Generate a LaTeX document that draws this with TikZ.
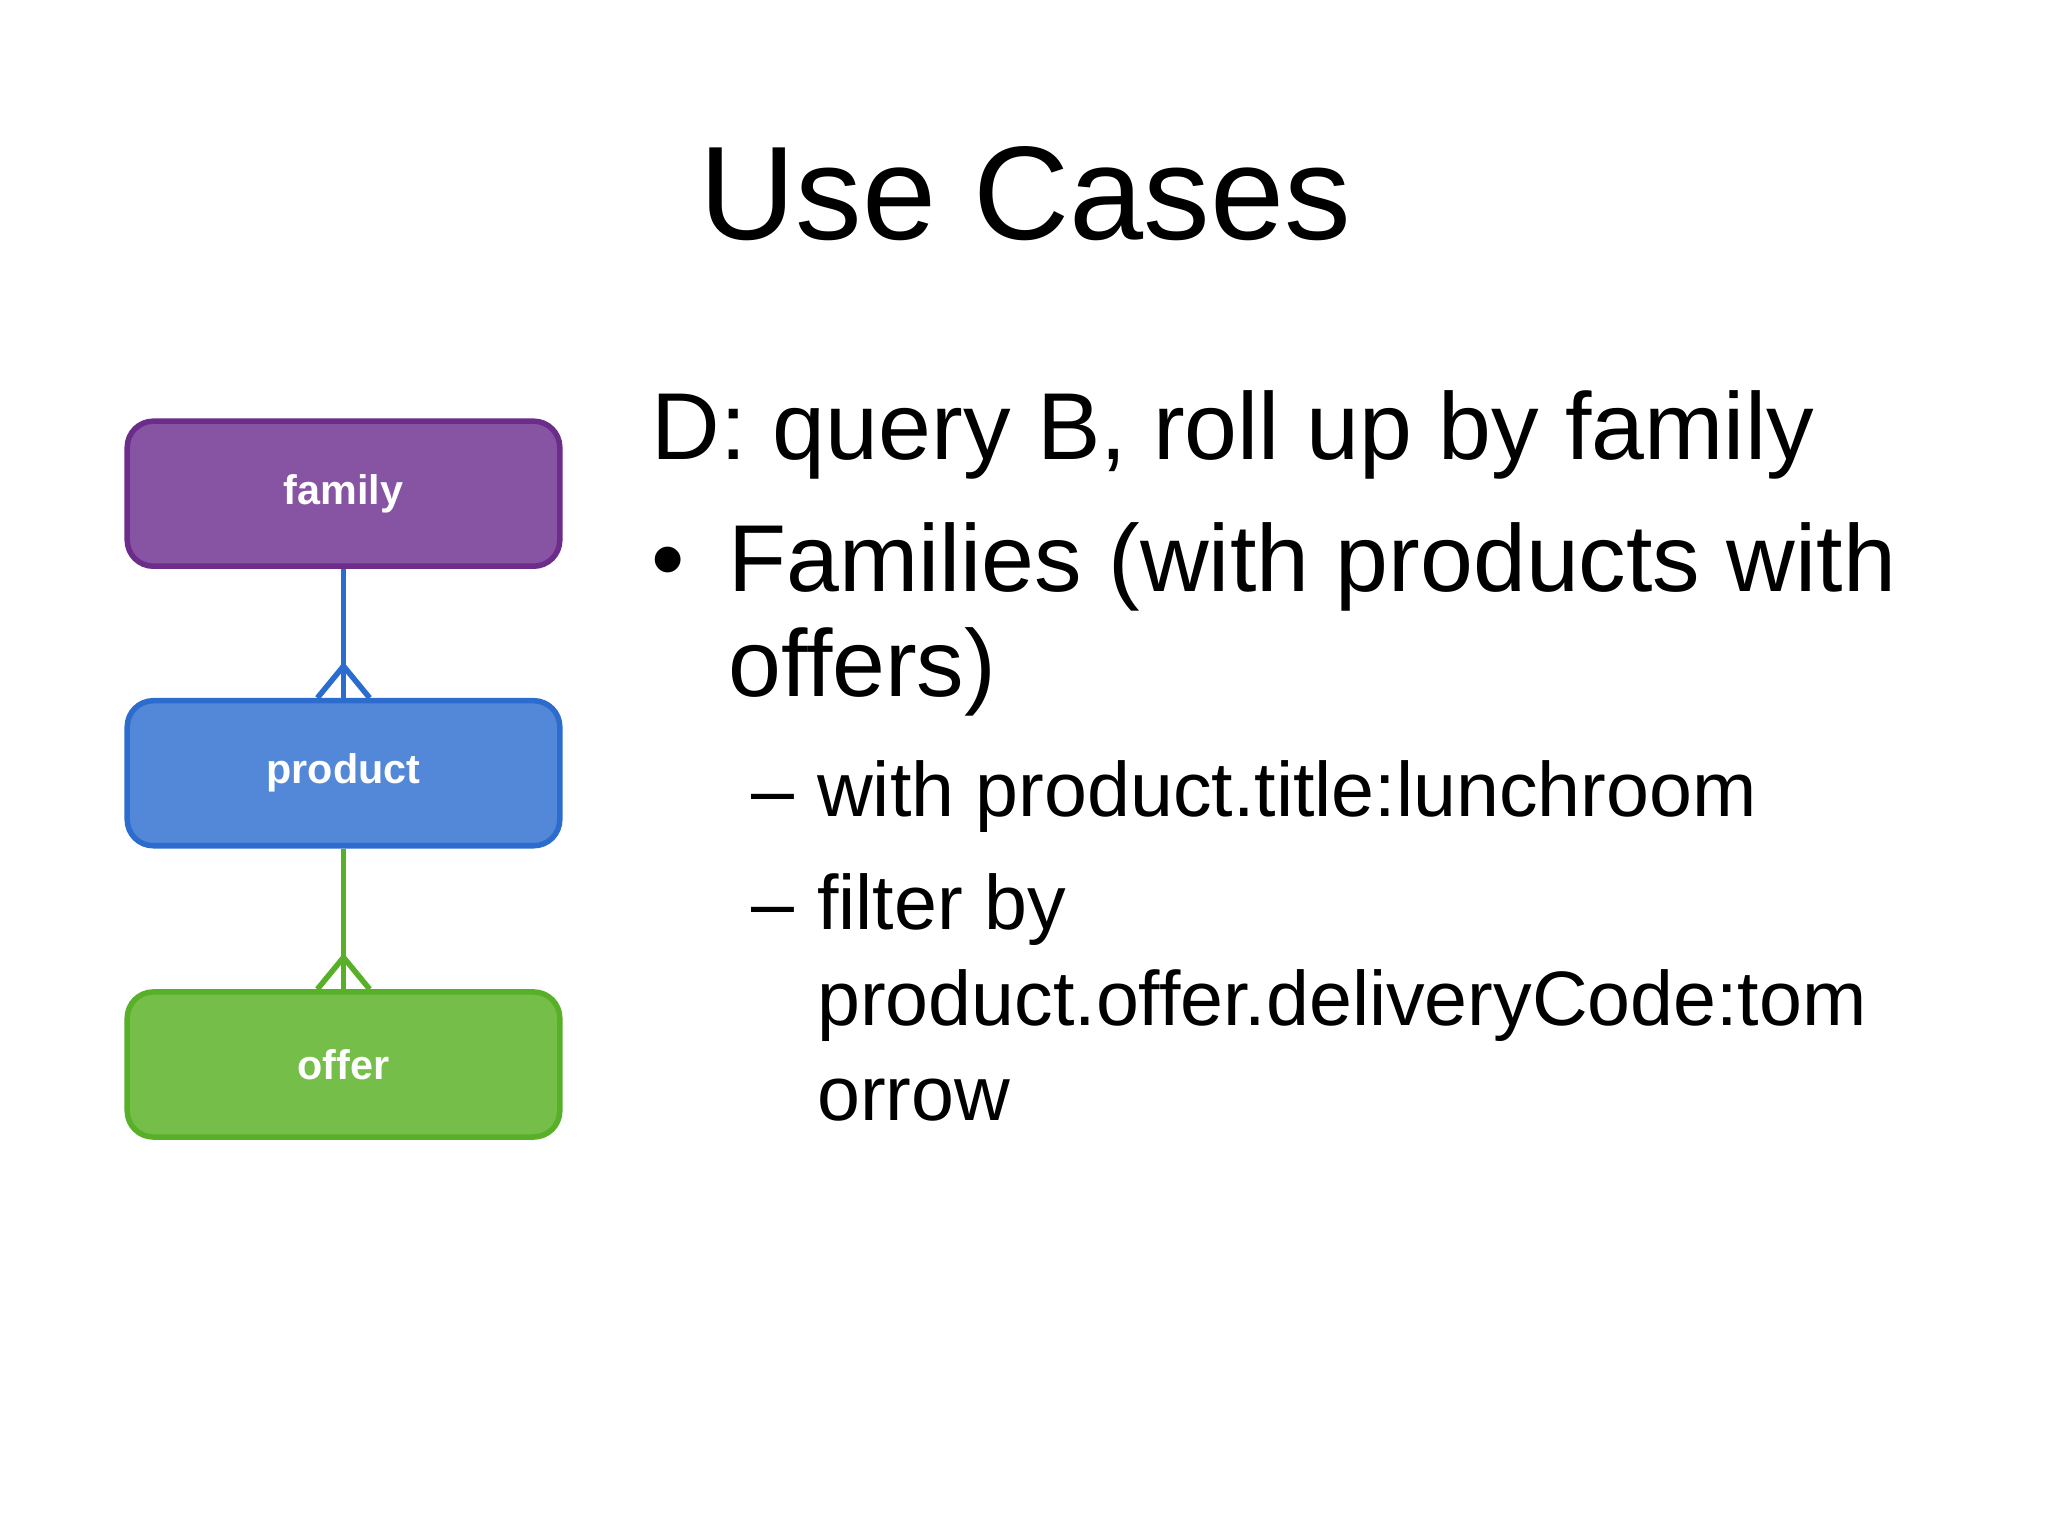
\documentclass[tikz,border=0pt]{standalone}
\usepackage{fontspec}
\setmainfont{Liberation Sans}
\begin{document}
\begin{tikzpicture}[x=0.01cm,y=-0.01cm,
  ent/.style={rounded corners=0.2cm,minimum width=3.31cm,minimum height=1.11cm,line width=1.2pt,text=white,font=\fontsize{9}{10}\selectfont\bfseries},
  txt/.style={anchor=base west,inner sep=0pt},
  crow/.style={line width=1.2pt}]
\useasboundingbox (0,0) rectangle (1568,1176);
\node[txt,anchor=base,font=\fontsize{29}{34}\selectfont] (title) at (785,183) {Use Cases};
\node[ent,fill=violet!55!white!85!black,fill={rgb,255:red,135;green,84;blue,164},draw={rgb,255:red,108;green,45;blue,138}] (family) at (263,378) {family};
\node[ent,fill={rgb,255:red,83;green,136;blue,216},draw={rgb,255:red,44;green,108;blue,206}] (product) at (263,592) {product};
\node[ent,fill={rgb,255:red,117;green,190;blue,73},draw={rgb,255:red,88;green,175;blue,40}] (offer) at (263,815) {offer};
\draw[crow,draw={rgb,255:red,44;green,108;blue,206}] (family.south) -- (product.north);
\coordinate (p1) at (263,510);
\draw[crow,draw={rgb,255:red,44;green,108;blue,206}] ([xshift=-0.2cm]product.north) -- (p1) -- ([xshift=0.2cm]product.north);
\draw[crow,draw={rgb,255:red,88;green,175;blue,40}] (product.south) -- (offer.north);
\coordinate (p2) at (263,733);
\draw[crow,draw={rgb,255:red,88;green,175;blue,40}] ([xshift=-0.2cm]offer.north) -- (p2) -- ([xshift=0.2cm]offer.north);
\begin{scope}[every node/.style={txt}]
\node[font=\fontsize{20.7}{24}\selectfont] (l1) at (498,352) {D: query B, roll up by family};
\node[font=\fontsize{20.7}{24}\selectfont] (b1) at (498,453) {•};
\node[font=\fontsize{20.7}{24}\selectfont] (l2) at (557,453) {Families (with products with};
\node[font=\fontsize{20.7}{24}\selectfont] (l3) at (557,533) {offers)};
\node[font=\fontsize{16.8}{20}\selectfont] (d1) at (575,625) {–};
\node[font=\fontsize{16.8}{20}\selectfont] (l4) at (625,625) {with product.title:lunchroom};
\node[font=\fontsize{16.8}{20}\selectfont] (d2) at (575,712) {–};
\node[font=\fontsize{16.8}{20}\selectfont] (l5) at (625,712) {filter by};
\node[font=\fontsize{16.8}{20}\selectfont] (l6) at (625,785) {product.offer.deliveryCode:tom};
\node[font=\fontsize{16.8}{20}\selectfont] (l7) at (625,858) {orrow};
\end{scope}
\end{tikzpicture}
\end{document}
